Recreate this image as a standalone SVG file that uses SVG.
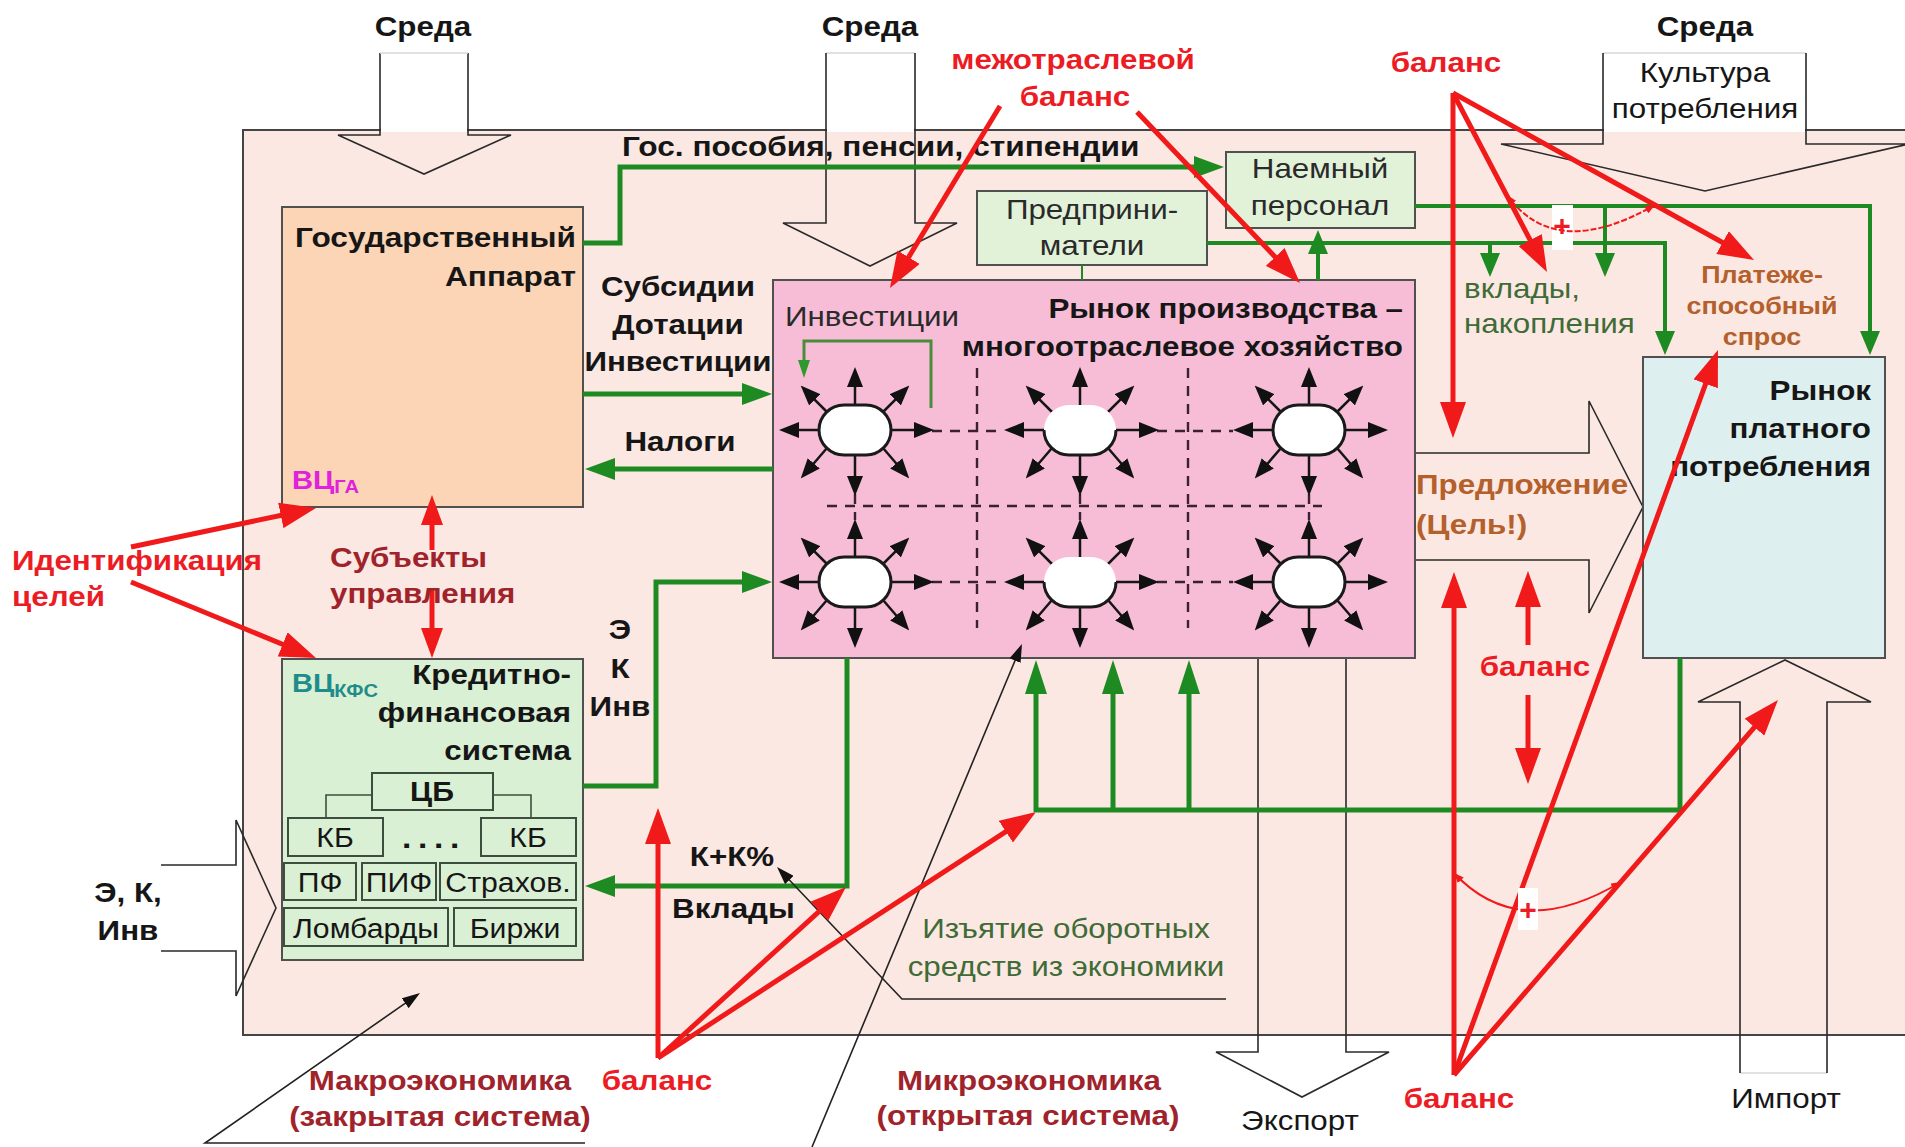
<svg xmlns="http://www.w3.org/2000/svg" width="1905" height="1147" viewBox="0 0 1905 1147">
<defs>
<style>
text{font-family:"Liberation Sans",Arial,sans-serif;font-size:28px;fill:#161616}
.b{font-weight:bold}
.m{text-anchor:middle}
.e{text-anchor:end}
.red{fill:#EC1C24}
.mar{fill:#A0232B}
.brn{fill:#B4602C}
.grn{fill:#3E6B36}
.gry{fill:#2a2a2a}
.box{stroke:#505050;stroke-width:2}
.sub{fill:#DAF0D4;stroke:#3E4E3E;stroke-width:2}
.blk{fill:none;stroke:#2a2a2a;stroke-width:1.6}
.g5{fill:none;stroke:#1E8A22;stroke-width:5}
.g4{fill:none;stroke:#1E8A22;stroke-width:4}
.r5{fill:none;stroke:#F01A1A;stroke-width:5}
.dash{fill:none;stroke:#3A2030;stroke-width:2.4;stroke-dasharray:10 8}
</style>
<marker id="gA" markerUnits="userSpaceOnUse" viewBox="0 0 30 22" markerWidth="30" markerHeight="22" refX="15" refY="11" orient="auto"><path d="M0,0L30,11L0,22z" fill="#1E8A22"/></marker>
<marker id="gU" markerUnits="userSpaceOnUse" viewBox="0 0 34 22" markerWidth="34" markerHeight="22" refX="17" refY="11" orient="auto"><path d="M0,0L34,11L0,22z" fill="#1E8A22"/></marker>
<marker id="gB" markerUnits="userSpaceOnUse" viewBox="0 0 24 20" markerWidth="24" markerHeight="20" refX="12" refY="10" orient="auto"><path d="M0,0L24,10L0,20z" fill="#1E8A22"/></marker>
<marker id="gS" markerUnits="userSpaceOnUse" viewBox="0 0 18 12" markerWidth="18" markerHeight="12" refX="9" refY="6" orient="auto"><path d="M0,0L18,6L0,12z" fill="#2E9A2E"/></marker>
<marker id="rA" markerUnits="userSpaceOnUse" viewBox="0 0 36 26" markerWidth="36" markerHeight="26" refX="18" refY="13" orient="auto"><path d="M0,0L36,13L0,26z" fill="#F01A1A"/></marker>
<marker id="rB" markerUnits="userSpaceOnUse" viewBox="0 0 30 22" markerWidth="30" markerHeight="22" refX="15" refY="11" orient="auto"><path d="M0,0L30,11L0,22z" fill="#F01A1A"/></marker>
<marker id="rS" markerUnits="userSpaceOnUse" viewBox="0 0 10 8" markerWidth="10" markerHeight="8" refX="10" refY="4" orient="auto-start-reverse"><path d="M0,0L10,4L0,8z" fill="#F01A1A"/></marker>
<marker id="kA" markerUnits="userSpaceOnUse" viewBox="0 0 20 16" markerWidth="20" markerHeight="16" refX="9" refY="8" orient="auto"><path d="M0,0L20,8L0,16z" fill="#111"/></marker>
<marker id="kB" markerUnits="userSpaceOnUse" viewBox="0 0 18 12" markerWidth="18" markerHeight="12" refX="9" refY="6" orient="auto"><path d="M0,0L18,6L0,12z" fill="#111"/></marker>
<!-- firm with arrows radiating in eight directions -->
<g id="rays" stroke="#151515" stroke-width="2.5" fill="none" marker-end="url(#kA)">
<path d="M0,-25V-52"/><path d="M0,25V55"/><path d="M-36,0H-65"/><path d="M36,0H68"/>
<path d="M-28,-18L-46.6,-36.6"/><path d="M28,-18L46.6,-36.6"/><path d="M-28,18L-47.1,40.2"/><path d="M28,18L47.1,40.2"/>
</g>
<g id="firm"><use href="#rays"/><rect x="-36" y="-25" width="72" height="50" rx="25" fill="#fff" stroke="#1a1a1a" stroke-width="3"/></g>
<g id="firm2"><use href="#rays"/><rect x="-36" y="-25" width="72" height="50" rx="25" fill="#fff"/><path d="M-36,0A25,25 0 0 0 -11,25H11A25,25 0 0 0 36,0" fill="none" stroke="#1a1a1a" stroke-width="3"/></g>
</defs>

<!-- economy boundary -->
<g id="economy">
<rect x="243" y="130" width="1700" height="905" fill="#FCE8E2" stroke="#444" stroke-width="2"/>
</g>

<!-- environment / trade block arrows -->
<g id="env-arrows">
<rect x="381" y="52" width="86" height="80" fill="#fff"/>
<rect x="827" y="52" width="87" height="80" fill="#fff"/>
<rect x="1604" y="52" width="201" height="80" fill="#fff"/>
<path class="blk" d="M380,53V135H338L424,174L511,135H468V53"/>
<path d="M380,53H468M826,53H915M1603,53H1806M1740,1073H1827" stroke="#d8d8d8" stroke-width="1.5"/>
<path class="blk" d="M826,53V223H783L870,266L957,223H915V53"/>
<path class="blk" d="M1603,53V144H1501L1705,191L1909,144H1806V53"/>
<path class="blk" d="M1258,658V1052H1216L1302,1097L1389,1052H1346V658"/>
<path class="blk" d="M1740,1073V702H1698L1785,660L1871,702H1827V1073"/>
<path class="blk" d="M1416,453H1589V401L1643,507L1589,613V560H1416"/>
<path class="blk" d="M161,865H236V820L276,908L236,996V951H161"/>
<text class="b m" transform="translate(423,36) scale(1.12,1)">Среда</text>
<text class="b m" transform="translate(870,36) scale(1.12,1)">Среда</text>
<text class="b m" transform="translate(1705,36) scale(1.12,1)">Среда</text>
<text class="m" transform="translate(1705,82) scale(1.12,1)">Культура</text>
<text class="m" transform="translate(1705,118) scale(1.12,1)">потребления</text>
<text class="m" transform="translate(1300,1130) scale(1.12,1)">Экспорт</text>
<text class="m" transform="translate(1786,1108) scale(1.12,1)">Импорт</text>
<text class="b m" transform="translate(128,902) scale(1.12,1)">Э, К,</text>
<text class="b m" transform="translate(128,940) scale(1.12,1)">Инв</text>
<text class="b brn" transform="translate(1416,494) scale(1.12,1)">Предложение</text>
<text class="b brn" transform="translate(1416,534) scale(1.12,1)">(Цель!)</text>
</g>

<!-- government -->
<g id="gov">
<rect x="282" y="207" width="301" height="300" fill="#FBD5B6" class="box"/>
<text class="b e" transform="translate(576,247) scale(1.13,1)">Государственный</text>
<text class="b e" transform="translate(576,286) scale(1.13,1)">Аппарат</text>
<text class="b" style="fill:#E022DC;font-size:26px" transform="translate(292,489) scale(1.12,1)">ВЦ<tspan font-size="18" dy="4">ГА</tspan></text>
</g>

<!-- credit and finance system -->
<g id="kfs">
<rect x="282" y="659" width="301" height="301" fill="#DAF0D4" class="box"/>
<text class="b e" transform="translate(571,684) scale(1.12,1)">Кредитно-</text>
<text class="b e" transform="translate(571,722) scale(1.12,1)">финансовая</text>
<text class="b e" transform="translate(571,760) scale(1.12,1)">система</text>
<text class="b" style="fill:#1F8C8C;font-size:26px" transform="translate(292,692) scale(1.12,1)">ВЦ<tspan font-size="18" dy="5">КФС</tspan></text>
<path d="M372,795H326V818M493,795H531V818" fill="none" stroke="#3E4E3E" stroke-width="1.6"/>
<rect class="sub" x="372" y="773" width="121" height="37"/>
<rect class="sub" x="288" y="818" width="95" height="38"/>
<rect class="sub" x="481" y="818" width="95" height="38"/>
<rect class="sub" x="284" y="863" width="72" height="37"/>
<rect class="sub" x="362" y="863" width="74" height="37"/>
<rect class="sub" x="440" y="863" width="136" height="37"/>
<rect class="sub" x="284" y="908" width="164" height="38"/>
<rect class="sub" x="454" y="908" width="122" height="38"/>
<text class="b m" style="font-size:27px" transform="translate(432,801) scale(1.12,1)">ЦБ</text>
<text class="m" style="font-size:27px" transform="translate(335,847) scale(1.12,1)">КБ</text>
<text class="m" style="font-size:27px" transform="translate(528,847) scale(1.12,1)">КБ</text>
<text class="b m" style="font-size:30px;letter-spacing:6px" transform="translate(434,848) scale(1.12,1)">....</text>
<text class="m" style="font-size:27px" transform="translate(320,892) scale(1.12,1)">ПФ</text>
<text class="m" style="font-size:27px" transform="translate(399,892) scale(1.12,1)">ПИФ</text>
<text class="m" style="font-size:27px" transform="translate(508,892) scale(1.12,1)">Страхов.</text>
<text class="m" style="font-size:27px" transform="translate(366,938) scale(1.12,1)">Ломбарды</text>
<text class="m" style="font-size:27px" transform="translate(515,938) scale(1.12,1)">Биржи</text>
</g>

<!-- production market: multi-sector economy -->
<g id="production">
<rect x="773" y="280" width="642" height="378" fill="#F7BDD6" class="box"/>
<path class="dash" d="M932,431H1004M1157,431H1233M932,582H1004M1157,582H1233M827,506H1322M977,368V628M1188,368V628M855,494V520M1080,494V520M1309,494V520"/>
<use href="#firm" x="855" y="430"/>
<use href="#firm2" x="1080" y="430"/>
<use href="#firm" x="1309" y="430"/>
<use href="#firm" x="855" y="582"/>
<use href="#firm2" x="1080" y="582"/>
<use href="#firm" x="1309" y="582"/>
<path d="M931,408V341H804V369" fill="none" stroke="#4B8B3B" stroke-width="3" marker-end="url(#gS)"/>
<text class="gry" transform="translate(785,326) scale(1.12,1)">Инвестиции</text>
<text class="b e" transform="translate(1403,318) scale(1.12,1)">Рынок производства –</text>
<text class="b e" transform="translate(1403,356) scale(1.12,1)">многоотраслевое хозяйство</text>
</g>

<g id="entrepreneurs">
<rect x="977" y="191" width="230" height="74" fill="#E1F2D9" class="box"/>
<text class="m gry" transform="translate(1092,219) scale(1.12,1)">Предприни-</text>
<text class="m gry" transform="translate(1092,255) scale(1.12,1)">матели</text>
</g>

<g id="staff">
<rect x="1226" y="152" width="189" height="76" fill="#E1F2D9" class="box"/>
<text class="m gry" transform="translate(1320,178) scale(1.12,1)">Наемный</text>
<text class="m gry" transform="translate(1320,215) scale(1.12,1)">персонал</text>
</g>

<g id="consumption">
<rect x="1643" y="357" width="242" height="301" fill="#DDF0EF" class="box"/>
<text class="b e" transform="translate(1871,400) scale(1.12,1)">Рынок</text>
<text class="b e" transform="translate(1871,438) scale(1.12,1)">платного</text>
<text class="b e" transform="translate(1871,476) scale(1.12,1)">потребления</text>
</g>

<!-- money and resource flows -->
<g id="connectors">
<path class="g5" d="M583,243H620V167H1209" marker-end="url(#gA)"/>
<path class="g5" d="M583,394H757" marker-end="url(#gA)"/>
<path class="g5" d="M773,469H600" marker-end="url(#gA)"/>
<path class="g5" d="M583,786H656V582H757" marker-end="url(#gA)"/>
<path class="g5" d="M847,658V886H600" marker-end="url(#gA)"/>
<path class="g5" d="M1036,810H1680V658"/>
<path class="g5" d="M1036,812V677" marker-end="url(#gU)"/>
<path class="g5" d="M1113,810V677" marker-end="url(#gU)"/>
<path class="g5" d="M1189,810V677" marker-end="url(#gU)"/>
<path class="g4" d="M1415,206H1870V343" marker-end="url(#gB)"/>
<path class="g4" d="M1207,243H1665V343" marker-end="url(#gB)"/>
<path class="g4" d="M1490,243V265" marker-end="url(#gB)"/>
<path class="g4" d="M1605,206V265" marker-end="url(#gB)"/>
<path class="g4" d="M1318,280V242" marker-end="url(#gB)"/>
<path d="M1082,265V280" stroke="#1E8A22" stroke-width="2"/>
<rect x="1552" y="205" width="21" height="45" fill="#fff"/>

<text class="b" transform="translate(622,156) scale(1.13,1)">Гос. пособия, пенсии, стипендии</text>
<text class="b m" transform="translate(678,296) scale(1.12,1)">Субсидии</text>
<text class="b m" transform="translate(678,334) scale(1.12,1)">Дотации</text>
<text class="b m" transform="translate(678,371) scale(1.12,1)">Инвестиции</text>
<text class="b m" transform="translate(680,451) scale(1.12,1)">Налоги</text>
<text class="b m" transform="translate(620,639) scale(1.12,1)">Э</text>
<text class="b m" transform="translate(620,678) scale(1.12,1)">К</text>
<text class="b m" transform="translate(620,716) scale(1.12,1)">Инв</text>
<text class="b m" transform="translate(732,866) scale(1.12,1)">К+К%</text>
<text class="b" transform="translate(672,918) scale(1.12,1)">Вклады</text>
<text class="grn" transform="translate(1464,298) scale(1.12,1)">вклады,</text>
<text class="grn" transform="translate(1464,333) scale(1.12,1)">накопления</text>
<text class="b m brn" style="font-size:24px" transform="translate(1762,283) scale(1.12,1)">Платеже-</text>
<text class="b m brn" style="font-size:24px" transform="translate(1762,314) scale(1.12,1)">способный</text>
<text class="b m brn" style="font-size:24px" transform="translate(1762,345) scale(1.12,1)">спрос</text>
<text class="m grn" transform="translate(1066,938) scale(1.12,1)">Изъятие оборотных</text>
<text class="m grn" transform="translate(1066,976) scale(1.12,1)">средств из экономики</text>

<!-- callouts -->
<path d="M1226,999H902L783.2,873.5" fill="none" stroke="#222" stroke-width="1.6" marker-end="url(#kB)"/>
<path d="M585,1143H205L412.6,998.1" fill="none" stroke="#222" stroke-width="1.6" marker-end="url(#kB)"/>
<path d="M812,1147L1018.5,652.3" fill="none" stroke="#222" stroke-width="1.6" marker-end="url(#kB)"/>

<!-- balance relations -->
<path class="r5" d="M1000,106L899.3,272.6" marker-end="url(#rA)"/>
<path class="r5" d="M1137,112L1287.6,270" marker-end="url(#rA)"/>
<path class="r5" d="M1453,93V420" marker-end="url(#rA)"/>
<path class="r5" d="M1453,93L1538.6,256.1" marker-end="url(#rA)"/>
<path class="r5" d="M1453,93L1738.3,251.3" marker-end="url(#rA)"/>
<path class="r5" d="M131,547L298.4,511.7" marker-end="url(#rA)"/>
<path class="r5" d="M131,582L299.3,651.2" marker-end="url(#rA)"/>
<path class="r5" d="M432,550V510" marker-end="url(#rB)"/>
<path class="r5" d="M432,590V643" marker-end="url(#rB)"/>
<path class="r5" d="M658,1058V826" marker-end="url(#rA)"/>
<path class="r5" d="M658,1058L832.7,899.1" marker-end="url(#rA)"/>
<path class="r5" d="M658,1058L1020.9,821.8" marker-end="url(#rA)"/>
<path class="r5" d="M1454,1075V590" marker-end="url(#rA)"/>
<path class="r5" d="M1454,1075L1711.8,366.9" marker-end="url(#rA)"/>
<path class="r5" d="M1454,1075L1766.2,713.6" marker-end="url(#rA)"/>
<path class="r5" d="M1528,645V589" marker-end="url(#rA)"/>
<path class="r5" d="M1528,695V766" marker-end="url(#rA)"/>
<path d="M1507,195Q1555,262 1655,205" fill="none" stroke="#F01A1A" stroke-width="2" stroke-dasharray="6 2" marker-start="url(#rS)" marker-end="url(#rS)"/>
<path d="M1454,873Q1519,943 1621,882" fill="none" stroke="#F01A1A" stroke-width="2" marker-start="url(#rS)" marker-end="url(#rS)"/>
<rect x="1518" y="888" width="20" height="42" fill="#fff"/>
<text class="b m red" style="font-size:30px" transform="translate(1562,236)">+</text>
<text class="b m red" style="font-size:30px" transform="translate(1528,920)">+</text>
</g>

<!-- annotations -->
<g id="annotations">
<text class="b m red" transform="translate(1073,69) scale(1.12,1)">межотраслевой</text>
<text class="b m red" transform="translate(1075,106) scale(1.12,1)">баланс</text>
<text class="b m red" transform="translate(1446,72) scale(1.12,1)">баланс</text>
<text class="b m red" transform="translate(1535,676) scale(1.12,1)">баланс</text>
<text class="b m red" transform="translate(657,1090) scale(1.12,1)">баланс</text>
<text class="b m red" transform="translate(1459,1108) scale(1.12,1)">баланс</text>
<text class="b red" transform="translate(12,570) scale(1.12,1)">Идентификация</text>
<text class="b red" transform="translate(12,606) scale(1.12,1)">целей</text>
<text class="b mar" transform="translate(330,567) scale(1.12,1)">Субъекты</text>
<text class="b mar" transform="translate(330,603) scale(1.12,1)">управления</text>
<text class="b m mar" transform="translate(440,1090) scale(1.12,1)">Макроэкономика</text>
<text class="b m mar" transform="translate(440,1126) scale(1.12,1)">(закрытая система)</text>
<text class="b m mar" transform="translate(1029,1090) scale(1.12,1)">Микроэкономика</text>
<text class="b m mar" transform="translate(1028,1125) scale(1.12,1)">(открытая система)</text>
</g>
</svg>
